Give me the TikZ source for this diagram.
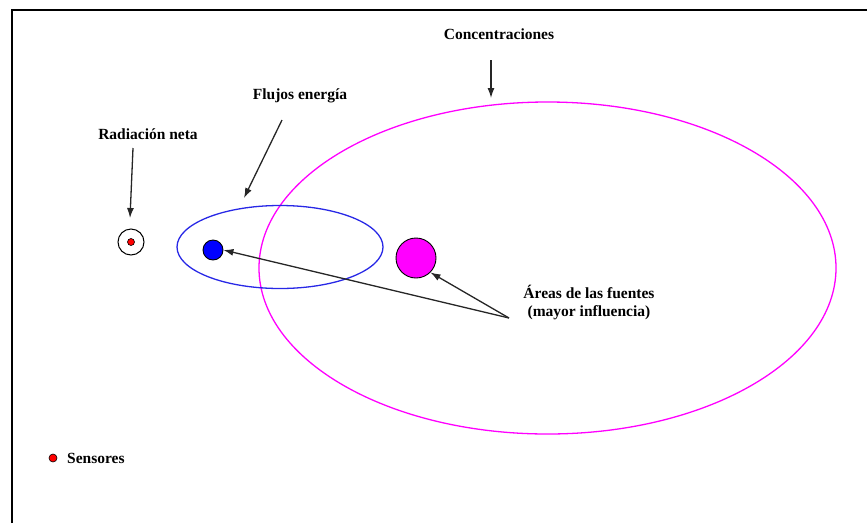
\documentclass[tikz,border=0pt]{standalone}
\usepackage{fontspec}
\setmainfont{Liberation Serif}
\usetikzlibrary{shapes.geometric,arrows.meta}
\definecolor{mag}{RGB}{255,0,255}
\definecolor{blu}{RGB}{40,40,230}
\begin{document}
\begin{tikzpicture}[x=1pt,y=-1pt,
  lbl/.style={font=\bfseries\fontsize{15.5}{18}\selectfont, inner sep=0pt, align=center},
  arr/.style={draw=black!85, line width=1.3pt, -{Latex[length=10pt,width=7pt]}},
  dot/.style={circle, draw=black, line width=0.6pt, inner sep=0pt}]
\useasboundingbox (0,0) rectangle (867,523);
\draw[line width=1.2pt] (12,523) -- (12,10) -- (867,10);
% ellipses
\node[draw=mag, line width=1.3pt, ellipse, minimum width=577pt, minimum height=332pt, inner sep=0pt] (conc) at (547.5,268) {};
\node[draw=blu, line width=1.3pt, ellipse, minimum width=206pt, minimum height=83pt, inner sep=0pt] (flux) at (280,247) {};
% sensors
\node[dot, minimum size=26pt, line width=1pt] (rn) at (131,242) {};
\node[dot, fill=red, minimum size=7pt] (rnd) at (131,242) {};
\node[dot, fill=blue, minimum size=20pt, line width=0.9pt] (bf) at (213,250) {};
\node[dot, fill=mag, minimum size=40pt, line width=0.9pt] (mf) at (416,258) {};
% labels
\node[lbl] (lrn) at (148,134) {Radiación neta};
\node[lbl] (lfe) at (300,96) {Flujos energía};
\node[lbl] (lco) at (499,34) {Concentraciones};
\node[lbl] (laf) at (589,303) {Áreas de las fuentes\\(mayor influencia)};
\node[dot, fill=red, minimum size=8pt] (sd) at (53,458) {};
\node[lbl, anchor=west] (ls) at (67,458) {Sensores};
% arrows
\coordinate (a1) at (133,148); \coordinate (a1e) at (130,218);
\coordinate (a2) at (282,120); \coordinate (a2e) at (244,198);
\coordinate (a3) at (491,60); \coordinate (a3e) at (491,98);
\coordinate (a4) at (509,318);
\draw[arr] (a1) -- (a1e);
\draw[arr] (a2) -- (a2e);
\draw[arr] (a3) -- (a3e);
\draw[arr] (a4) -- (bf.east);
\draw[arr] (a4) -- (mf.south east);
\end{tikzpicture}
\end{document}
